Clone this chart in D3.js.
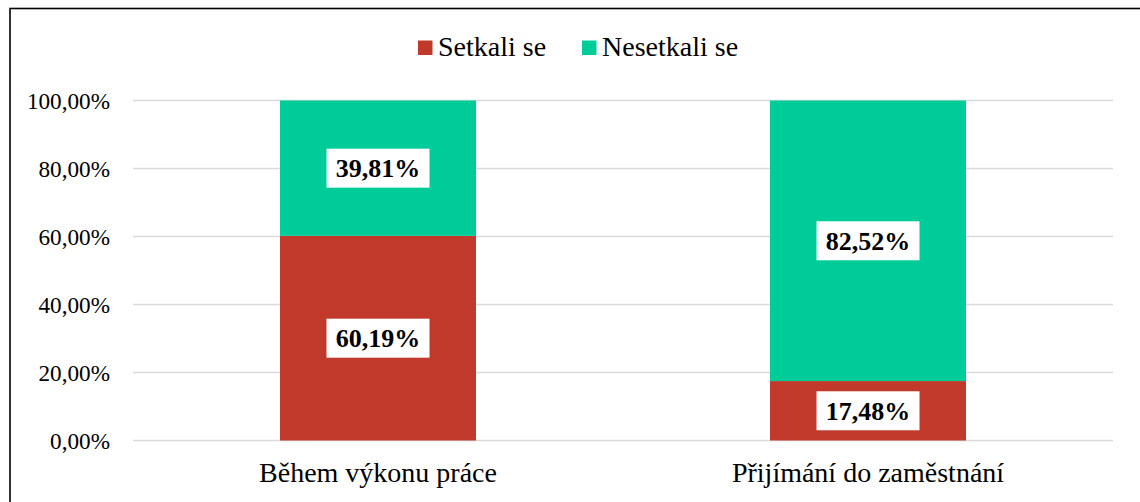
<!DOCTYPE html>
<html><head><meta charset="utf-8">
<script src="https://cdn.jsdelivr.net/npm/d3@7"></script>
<style>body{margin:0;background:#fff}svg{display:block}</style>
</head><body><svg id="c" width="1140" height="502"></svg>
<script>
const categories = ["Během výkonu práce", "Přijímání do zaměstnání"];
const seriesNames = ["Setkali se", "Nesetkali se"];
const setkali = [60.19, 17.48];
const nesetkali = [39.81, 82.52];
const tickValues = [0, 20, 40, 60, 80, 100];
const colors = ["#C0392B", "#00CC99"];
const FF = '"Liberation Serif"';

const svg = d3.select("#c");
svg.append("rect").attr("x",10).attr("y",8.5).attr("width",1200).attr("height",600)
  .attr("fill","none").attr("stroke","#000").attr("stroke-width",1.6);

const x = d3.scaleBand().domain(categories).range([133,1113]).paddingInner(0.6).paddingOuter(0.3);
const y = d3.scaleLinear().domain([0,100]).range([440.5,100.5]);
const fmt = v => d3.format(".2f")(v).replace(".", ",") + "%";

// gridlines
svg.append("g").selectAll("line").data(tickValues).join("line")
  .attr("x1",133).attr("x2",1113).attr("y1",d=>y(d)).attr("y2",d=>y(d))
  .attr("stroke","#d9d9d9").attr("stroke-width",1.5);

// y axis labels
const yAxis = d3.axisLeft(y).tickValues(tickValues).tickFormat(fmt).tickSize(0).tickPadding(0);
const ga = svg.append("g").attr("transform","translate(110,0)").call(yAxis);
ga.select(".domain").remove();
ga.selectAll("text").style("font-family",FF).style("font-size","23.2px").attr("fill","#000").attr("dy","0.35em");

// x axis labels
const xAxis = d3.axisBottom(x).tickSize(0).tickPadding(0);
const gx = svg.append("g").attr("transform","translate(0,482)").call(xAxis);
gx.select(".domain").remove();
gx.selectAll("text").style("font-family",FF).style("font-size","28px").attr("fill","#000").attr("dy",0);

// stacks
const data = categories.map((c,i)=>({cat:c, s0:setkali[i], s1:nesetkali[i]}));
const stack = d3.stack().keys(["s0","s1"])(data);
stack.forEach((layer,li)=>{
  svg.append("g").selectAll("rect").data(layer).join("rect")
    .attr("x",d=>x(d.data.cat)).attr("width",x.bandwidth())
    .attr("y",d=>y(d[1])).attr("height",d=>y(d[0])-y(d[1]))
    .attr("fill",colors[li]);
});
stack.forEach((layer,li)=>{
  const g = svg.append("g").selectAll("g").data(layer).join("g")
    .attr("transform",d=>`translate(${x(d.data.cat)+x.bandwidth()/2},${y((d[0]+d[1])/2)})`);
  g.append("rect").attr("x",-51.5).attr("y",-19.5).attr("width",103).attr("height",39).attr("fill","#fff");
  g.append("text").attr("text-anchor","middle").attr("dy","0.35em")
    .style("font-family",FF).style("font-size","26px").style("font-weight","bold").attr("fill","#000")
    .text(d=>fmt(d[1]-d[0]));
});

// legend
const leg = [{x:418,tx:438},{x:582,tx:602}];
seriesNames.forEach((n,i)=>{
  svg.append("rect").attr("x",leg[i].x).attr("y",40.5).attr("width",14.5).attr("height",14.5).attr("fill",colors[i]);
  svg.append("text").attr("x",leg[i].tx).attr("y",56).style("font-family",FF).style("font-size","28px").attr("fill","#000").text(n);
});
</script></body></html>
